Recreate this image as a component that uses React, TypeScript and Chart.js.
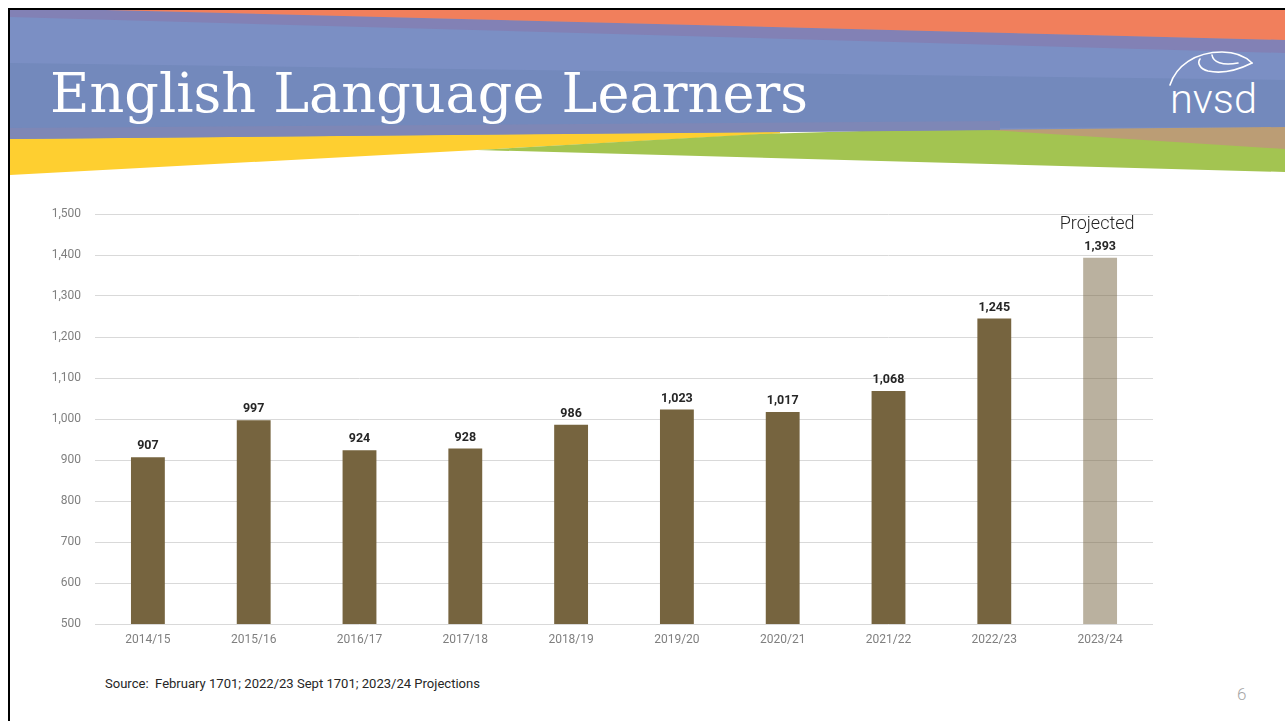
import React, { useEffect, useRef } from "react";
import { Chart, registerables } from "chart.js";

Chart.register(...registerables);

const categories = ["2014/15", "2015/16", "2016/17", "2017/18", "2018/19", "2019/20", "2020/21", "2021/22", "2022/23", "2023/24"];
const enrolment = [907, 997, 924, 928, 986, 1023, 1017, 1068, 1245, 1393];
const projected = [false, false, false, false, false, false, false, false, false, true];
const annotations = ["", "", "", "", "", "", "", "", "", "Projected"];
const yMin = 500;
const yMax = 1500;
const yStep = 100;

const ACTUAL_COLOR = "#76643f";
const PROJECTED_COLOR = "rgba(118,100,63,0.5)";

const fmt = (v: number) => v.toLocaleString("en-US");

const labelPlugin = {
  id: "barLabels",
  afterDatasetsDraw(chart: any) {
    const ctx = chart.ctx;
    const meta = chart.getDatasetMeta(0);
    ctx.save();
    ctx.textAlign = "center";
    ctx.textBaseline = "alphabetic";
    meta.data.forEach((bar: any, i: number) => {
      ctx.fillStyle = "#262626";
      ctx.font = "bold 12.5px Roboto";
      ctx.fillText(fmt(enrolment[i]), bar.x, bar.y - 8);
      if (annotations[i]) {
        ctx.font = "300 18px Roboto";
        ctx.fillStyle = "#262626";
        ctx.fillText(annotations[i], bar.x - 3, bar.y - 28.5);
      }
    });
    ctx.restore();
  },
};

function BarChart() {
  const ref = useRef<HTMLCanvasElement | null>(null);
  useEffect(() => {
    if (!ref.current) return;
    const chart = new Chart(ref.current, {
      type: "bar",
      data: {
        labels: categories,
        datasets: [
          {
            data: enrolment,
            backgroundColor: projected.map((p) => (p ? PROJECTED_COLOR : ACTUAL_COLOR)),
            borderWidth: 0,
            barPercentage: 0.32,
            categoryPercentage: 1,
          },
        ],
      },
      options: {
        animation: false,
        responsive: false,
        maintainAspectRatio: false,
        layout: { padding: { left: 0, right: 27, top: 24, bottom: 0 } },
        plugins: { legend: { display: false }, tooltip: { enabled: false } },
        scales: {
          x: {
            grid: { display: false, drawTicks: false },
            border: { display: false },
            ticks: { color: "#7f7f7f", font: { family: "Roboto", size: 12 }, padding: 9, maxRotation: 0 },
            afterFit: (s: any) => {
              s.height = 36;
            },
          },
          y: {
            min: yMin,
            max: yMax,
            grid: { color: "#d9d9d9", lineWidth: 1, drawTicks: false },
            border: { display: false },
            ticks: {
              stepSize: yStep,
              color: "#7f7f7f",
              font: { family: "Roboto", size: 12 },
              padding: 14,
              callback: (v: any) => fmt(Number(v)),
            },
            afterFit: (s: any) => {
              s.width = 55;
            },
          },
        },
      },
      plugins: [labelPlugin],
    });
    return () => chart.destroy();
  }, []);
  return <canvas ref={ref} width={1140} height={470} style={{ position: "absolute", left: 40, top: 190, width: 1140, height: 470 }} />;
}

function Banner() {
  return (
    <svg width={1285} height={721} style={{ position: "absolute", left: 0, top: 0 }}>
      {/* bottom stripes */}
      <polygon points="10,128 780,128 780,133.5 477,150 10,175" fill="#fecf30" />
      <polygon points="477,150 760,134 1285,118 1285,172" fill="#a3c451" />
      <polygon points="975,129 1285,124 1285,149" fill="#bb9d75" />
      {/* blue body */}
      <polygon points="10,10 1285,10 1285,127 10,139" fill="#7b8fc4" />
      <polygon points="10,63 1285,80 1285,127 10,130" fill="#7389bc" />
      <polygon points="10,128 1000,121 1000,130 10,139" fill="#7e87b6" />
      {/* top stripes */}
      <polygon points="10,10 105,10 1285,40 1285,53 10,17" fill="#8281b5" />
      <polygon points="105,10 1285,10 1285,40" fill="#f17f5c" />
      {/* border */}
      <rect x={8} y={8} width={2} height={713} fill="#000" />
      <rect x={8} y={8} width={1277} height={2} fill="#000" />
      {/* title */}
      <text x={50} y={112} fill="#ffffff" fontFamily="DejaVu Serif" fontSize={54} textLength={758} lengthAdjust="spacingAndGlyphs">
        English Language Learners
      </text>
      {/* logo */}
      <g fill="none" stroke="#ffffff" strokeWidth={1.6} strokeLinecap="round">
        <path d="M1170,85 C1176,66 1195,52 1222,52 C1236,52 1246,57 1252,63" />
        <path d="M1252,63 C1238,70 1222,74 1208,71 C1200,69 1197,63 1200,59" />
        <path d="M1212,55 C1213,62 1222,66 1238,63" />
      </g>
      <text x={1170} y={113} fill="#ffffff" fontFamily="Roboto" fontWeight={300} fontSize={40} textLength={87} lengthAdjust="spacingAndGlyphs">
        nvsd
      </text>
      {/* footer */}
      <text x={105} y={688} fill="#262626" fontFamily="Roboto" fontSize={12} textLength={375} lengthAdjust="spacingAndGlyphs" style={{ whiteSpace: "pre" }}>
        {"Source:  February 1701; 2022/23 Sept 1701; 2023/24 Projections"}
      </text>
      <text x={1237} y={700} fill="#a6a6a6" fontFamily="Roboto" fontWeight={300} fontSize={17}>
        6
      </text>
    </svg>
  );
}

export default function App() {
  return (
    <div style={{ position: "absolute", left: 0, top: 0, width: 1285, height: 721, background: "#ffffff", overflow: "hidden" }}>
      <Banner />
      <BarChart />
    </div>
  );
}
